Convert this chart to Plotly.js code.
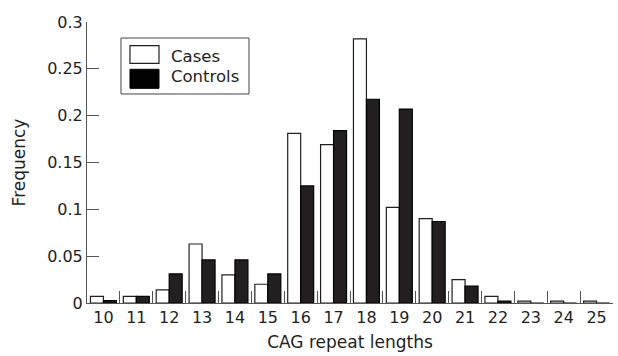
<!DOCTYPE html>
<html><head><meta charset="utf-8">
<script src="https://cdn.plot.ly/plotly-3.0.1.min.js"></script>
<style>body{margin:0;background:#fff}#c{width:618px;height:356px}</style>
</head><body><div id="c"></div>
<script>
const categories = ["10","11","12","13","14","15","16","17","18","19","20","21","22","23","24","25"];
const cases    = [0.007,0.007,0.014,0.063,0.030,0.020,0.181,0.169,0.282,0.102,0.090,0.025,0.007,0.002,0.002,0.002];
const controls = [0.0025,0.007,0.031,0.046,0.046,0.031,0.125,0.184,0.2175,0.207,0.087,0.018,0.002,0,0,0];
const yTicks = [0,0.05,0.1,0.15,0.2,0.25,0.3];
const yTickText = ["0","0.05","0.1","0.15","0.2","0.25","0.3"];
const seriesNames = ["Cases","Controls"];
const FONT = "'DejaVu Sans', sans-serif";
const INK = '#231f20';
const data = [
  {type:'bar', name:seriesNames[0], x:categories, y:cases,
   marker:{color:'#ffffff', line:{color:INK, width:1.2}}},
  {type:'bar', name:seriesNames[1], x:categories, y:controls,
   marker:{color:INK, line:{color:'#000000', width:1.2}}}
];
// legend drawn as a boxed key (paper coordinates)
const shapes = [
  {type:'rect', xref:'paper', yref:'paper', x0:0.0646, x1:0.308, y0:0.7438, y1:0.943,
   line:{color:'#444', width:1}, fillcolor:'#fff', layer:'above'},
  {type:'rect', xref:'paper', yref:'paper', x0:0.0817, x1:0.1369, y0:0.853, y1:0.9157,
   line:{color:INK, width:1.2}, fillcolor:'#fff', layer:'above'},
  {type:'rect', xref:'paper', yref:'paper', x0:0.0817, x1:0.1369, y0:0.764, y1:0.8317,
   line:{color:'#000', width:1}, fillcolor:'#000', layer:'above'}
];
const annotations = [
  {xref:'paper', yref:'paper', x:0.1559, y:0.879, xanchor:'left', yanchor:'middle',
   text:seriesNames[0], showarrow:false, font:{family:FONT, size:16.5, color:INK}},
  {xref:'paper', yref:'paper', x:0.1559, y:0.8078, xanchor:'left', yanchor:'middle',
   text:seriesNames[1], showarrow:false, font:{family:FONT, size:16.5, color:INK}}
];
const layout = {
  width:618, height:356,
  margin:{l:87, r:5, t:22, b:53},
  paper_bgcolor:'#fff', plot_bgcolor:'#fff',
  font:{family:FONT, size:16, color:INK},
  barmode:'group', bargap:0.21, bargroupgap:0,
  showlegend:false,
  shapes:shapes, annotations:annotations,
  xaxis:{type:'category', tickson:'boundaries', ticks:'inside', ticklen:12,
    tickcolor:'#555', showline:true, linecolor:'#555', linewidth:1,
    showgrid:false, zeroline:false,
    title:{text:'CAG repeat lengths', font:{family:FONT, size:17}, standoff:9},
    tickfont:{family:FONT, size:16}},
  yaxis:{range:[0,0.3], tickvals:yTicks, ticktext:yTickText, ticks:'inside',
    ticklen:12, tickcolor:'#555', showline:true, linecolor:'#555', linewidth:1,
    showgrid:false, zeroline:false,
    title:{text:'Frequency', font:{family:FONT, size:17}, standoff:17},
    tickfont:{family:FONT, size:16}}
};
Plotly.newPlot('c', data, layout, {displayModeBar:false, staticPlot:true});
</script></body></html>
